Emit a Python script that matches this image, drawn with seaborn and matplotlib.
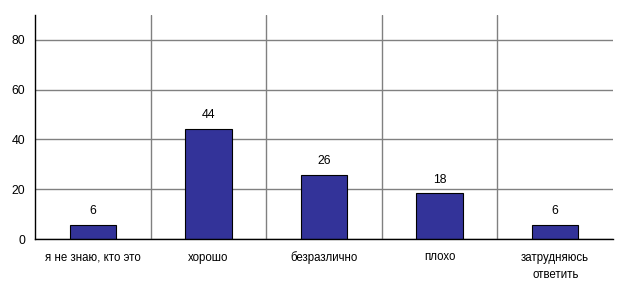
import matplotlib
matplotlib.use("Agg")
import matplotlib.pyplot as plt
import seaborn as sns
import numpy as np
import pandas as pd

categories = ["я не знаю, кто это", "хорошо", "безразлично", "плохо", "затрудняюсь\nответить"]
values = [5.8, 44.2, 25.7, 18.4, 5.6]
labels = ["6", "44", "26", "18", "6"]

sns.set_style("white")
plt.rcParams['font.family'] = ['Liberation Sans', 'DejaVu Sans']
plt.rcParams['text.color'] = 'black'
plt.rcParams['xtick.color'] = 'black'
plt.rcParams['ytick.color'] = 'black'

fig = plt.figure(figsize=(6.25, 2.86), dpi=100)
ax = fig.add_axes([35/625, 47/286, (613-35)/625, (239-15)/286])

df = pd.DataFrame({"cat": categories, "val": values})
sns.barplot(data=df, x="cat", y="val", ax=ax, color="#333399", saturation=1,
            width=0.4, edgecolor="black", linewidth=0.8, zorder=3)

ax.set_ylim(0, 90)
ax.set_xlim(-0.5, len(categories) - 0.5)
ax.set_yticks([0, 20, 40, 60, 80])
ax.yaxis.grid(True, color="#808080", linewidth=1, zorder=0)
for b in np.arange(0.5, len(categories) - 1, 1.0):
    ax.axvline(b, color="#808080", linewidth=1, zorder=0)
ax.set_axisbelow(True)

ax.set_xticks(np.arange(-0.5, len(categories), 1.0), minor=False)
ax.set_xticklabels([])
ax.set_xticks(np.arange(len(categories)), minor=True)
ax.set_xticklabels(categories, minor=True, fontsize=8.3, linespacing=1.6, color="black")
ax.tick_params(axis="x", which="minor", length=0, pad=9)
ax.tick_params(axis="x", which="major", length=4, width=1, color="black", direction="out")
ax.tick_params(axis="y", length=4, width=1, color="black", direction="out", labelsize=8.8,
               labelcolor="black", pad=3)
ax.set_xlabel("")
ax.set_ylabel("")

for s in ["top", "right"]:
    ax.spines[s].set_visible(False)
for s in ["left", "bottom"]:
    ax.spines[s].set_color("black")
    ax.spines[s].set_linewidth(1)
    ax.spines[s].set_zorder(4)

for i, (v, t) in enumerate(zip(values, labels)):
    ax.annotate(t, (i, v), xytext=(0, 5.5), textcoords="offset points",
                ha="center", va="bottom", fontsize=8.8, color="black")

fig.savefig("out.png", dpi=100)
